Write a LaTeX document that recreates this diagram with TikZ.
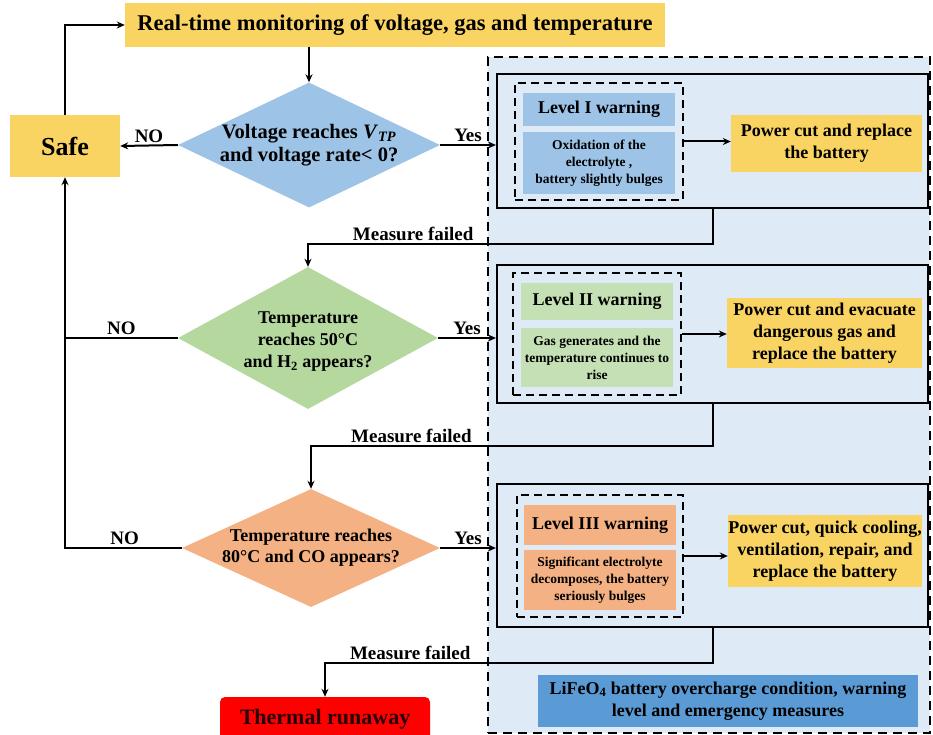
\documentclass[tikz,border=0pt]{standalone}
\usepackage{fontspec}
\setmainfont{Liberation Serif}
\usetikzlibrary{shapes.geometric, arrows.meta, positioning}

\definecolor{warnyellow}{RGB}{250,212,98}
\definecolor{lvlblue}{RGB}{157,195,230}
\definecolor{lvlgreen}{RGB}{181,216,158}
\definecolor{hdgreen}{RGB}{197,224,180}
\definecolor{lvlorange}{RGB}{244,177,131}
\definecolor{panelblue}{RGB}{222,235,247}
\definecolor{notebl}{RGB}{91,155,213}

\newcommand{\fs}[2]{\fontsize{#1}{#2}\selectfont\bfseries}

\begin{document}
\begin{tikzpicture}[x=1pt, y=-1pt,
    line/.style={line width=2pt, -{Stealth[length=8pt,width=7pt]}},
    plain/.style={line width=2pt},
    lbl/.style={font=\fs{19}{21}, inner sep=2pt},
    dia/.style={diamond, draw=none, inner sep=0pt},
    dtext/.style={font=\fs{18}{22}, align=center},
    fillbox/.style={rectangle, draw=none, inner sep=0pt, align=center},
    lvlbox/.style={rectangle, draw, line width=2.2pt, minimum width=431},
    inbox/.style={rectangle, draw, line width=2.6pt, dash pattern=on 8pt off 5pt},
    actbox/.style={fillbox, fill=warnyellow, font=\fs{18}{22}},
    hdbox/.style={fillbox, minimum width=152, font=\fs{18}{20}},
    bdbox/.style={fillbox, minimum width=152, font=\fs{13.5}{17}}]
    \useasboundingbox (0,0) rectangle (933,735);

    % Background panel for warning levels
    \node[rectangle, draw, fill=panelblue, line width=2.2pt, dash pattern=on 9pt off 6pt,
          minimum width=442, minimum height=676] (panel) at (709,395) {};

    % Monitoring and safe state
    \node[fillbox, fill=warnyellow, minimum width=540, minimum height=44, font=\fs{22.5}{24}] (monitor) at (395,25) {Real-time monitoring of voltage, gas and temperature};
    \node[fillbox, fill=warnyellow, minimum width=110, minimum height=62, font=\fs{26}{28}] (safe) at (65,146) {Safe};

    % Decisions
    \node[dia, fill=lvlblue, minimum width=262, minimum height=125] (d1) at (309,145) {};
    \node[dtext, font=\fs{20.5}{23}] at (d1.center) {Voltage reaches \textit{V}\textsubscript{\textit{TP}}\\and voltage rate< 0?};
    \node[dia, fill=lvlgreen, minimum width=260, minimum height=142] (d2) at (308,338) {};
    \node[dtext] at ([yshift=-4pt]d2.center) {Temperature\\reaches 50°C\\and H\textsubscript{2} appears?};
    \node[dia, fill=lvlorange, minimum width=258, minimum height=118] (d3) at (311,548) {};
    \node[dtext, font=\fs{18}{21}] at (d3.center) {Temperature reaches\\80°C and CO appears?};

    % Level I
    \node[lvlbox, minimum height=134] (lv1) at (712.5,141) {};
    \node[inbox, minimum width=168, minimum height=117] (in1) at (599,141.5) {};
    \node[hdbox, fill=lvlblue, minimum height=33] (hd1) at (599,109.5) {Level I warning};
    \node[bdbox, fill=lvlblue, minimum height=62] (bd1) at (599,163) {Oxidation of the\\electrolyte ,\\battery slightly bulges};
    \node[actbox, minimum width=191, minimum height=57] (ac1) at (826.5,143.5) {Power cut and replace\\the battery};

    % Level II
    \node[lvlbox, minimum height=138] (lv2) at (712.5,334) {};
    \node[inbox, minimum width=168, minimum height=122] (in2) at (597,334) {};
    \node[hdbox, fill=hdgreen, minimum height=37] (hd2) at (597,301.5) {Level II warning};
    \node[bdbox, fill=hdgreen, minimum height=59] (bd2) at (597,357.5) {Gas generates and the\\temperature continues to\\rise};
    \node[actbox, minimum width=195, minimum height=70] (ac2) at (824.5,333) {Power cut and evacuate\\dangerous gas and\\replace the battery};

    % Level III
    \node[lvlbox, minimum height=143] (lv3) at (712.5,555.5) {};
    \node[inbox, minimum width=166, minimum height=122] (in3) at (600,556) {};
    \node[hdbox, fill=lvlorange, minimum height=40] (hd3) at (600,525) {Level III warning};
    \node[bdbox, fill=lvlorange, minimum height=60] (bd3) at (600,580) {Significant electrolyte\\decomposes, the battery\\seriously bulges};
    \node[actbox, minimum width=194, minimum height=72] (ac3) at (825,551) {Power cut, quick cooling,\\ventilation, repair, and\\replace the battery};

    % End states
    \node[fillbox, fill=red, rounded corners=5pt, minimum width=210, minimum height=44, font=\fs{22}{24}, text=black!85!red] (runaway) at (325,719) {Thermal runaway};
    \node[fillbox, fill=notebl, minimum width=380, minimum height=52, font=\fs{18}{22}] (note) at (728,701) {LiFeO\textsubscript{4} battery overcharge condition, warning\\level and emergency measures};

    % Connectors
    \draw[line] (monitor.south -| d1.north) -- (d1.north);
    \draw[line] (safe.north) |- (monitor.west);
    \draw[line] (d1.west) -- node[lbl, above] {NO} (safe.east);
    \draw[plain] (d2.west) -- node[lbl, above] {NO} (d2.west -| safe.south);
    \draw[line] (d3.west) -| node[lbl, above, pos=0.245] {NO} (safe.south);

    \draw[line] (d1.east) -- node[lbl, above] {Yes} (d1.east -| lv1.west);
    \draw[line] (d2.east) -- node[lbl, above] {Yes} (d2.east -| lv2.west);
    \draw[line] (d3.east) -- node[lbl, above] {Yes} (d3.east -| lv3.west);

    \draw[line] (in1.east) -- (in1.east -| ac1.west);
    \draw[line] (in2.east) -- (in2.east -| ac2.west);
    \draw[line] (in3.east) -- (in3.east -| ac3.west);

    \draw[line] (lv1.south) -- ++(0,35) -| node[lbl, above, pos=0.37] {Measure failed} (d2.north);
    \draw[line] (lv2.south) -- ++(0,42) -| node[lbl, above, pos=0.375] {Measure failed} (d3.north);
    \draw[line] (lv3.south) -- ++(0,35) -| node[lbl, above, pos=0.39] {Measure failed} (runaway.north);

\end{tikzpicture}
\end{document}
